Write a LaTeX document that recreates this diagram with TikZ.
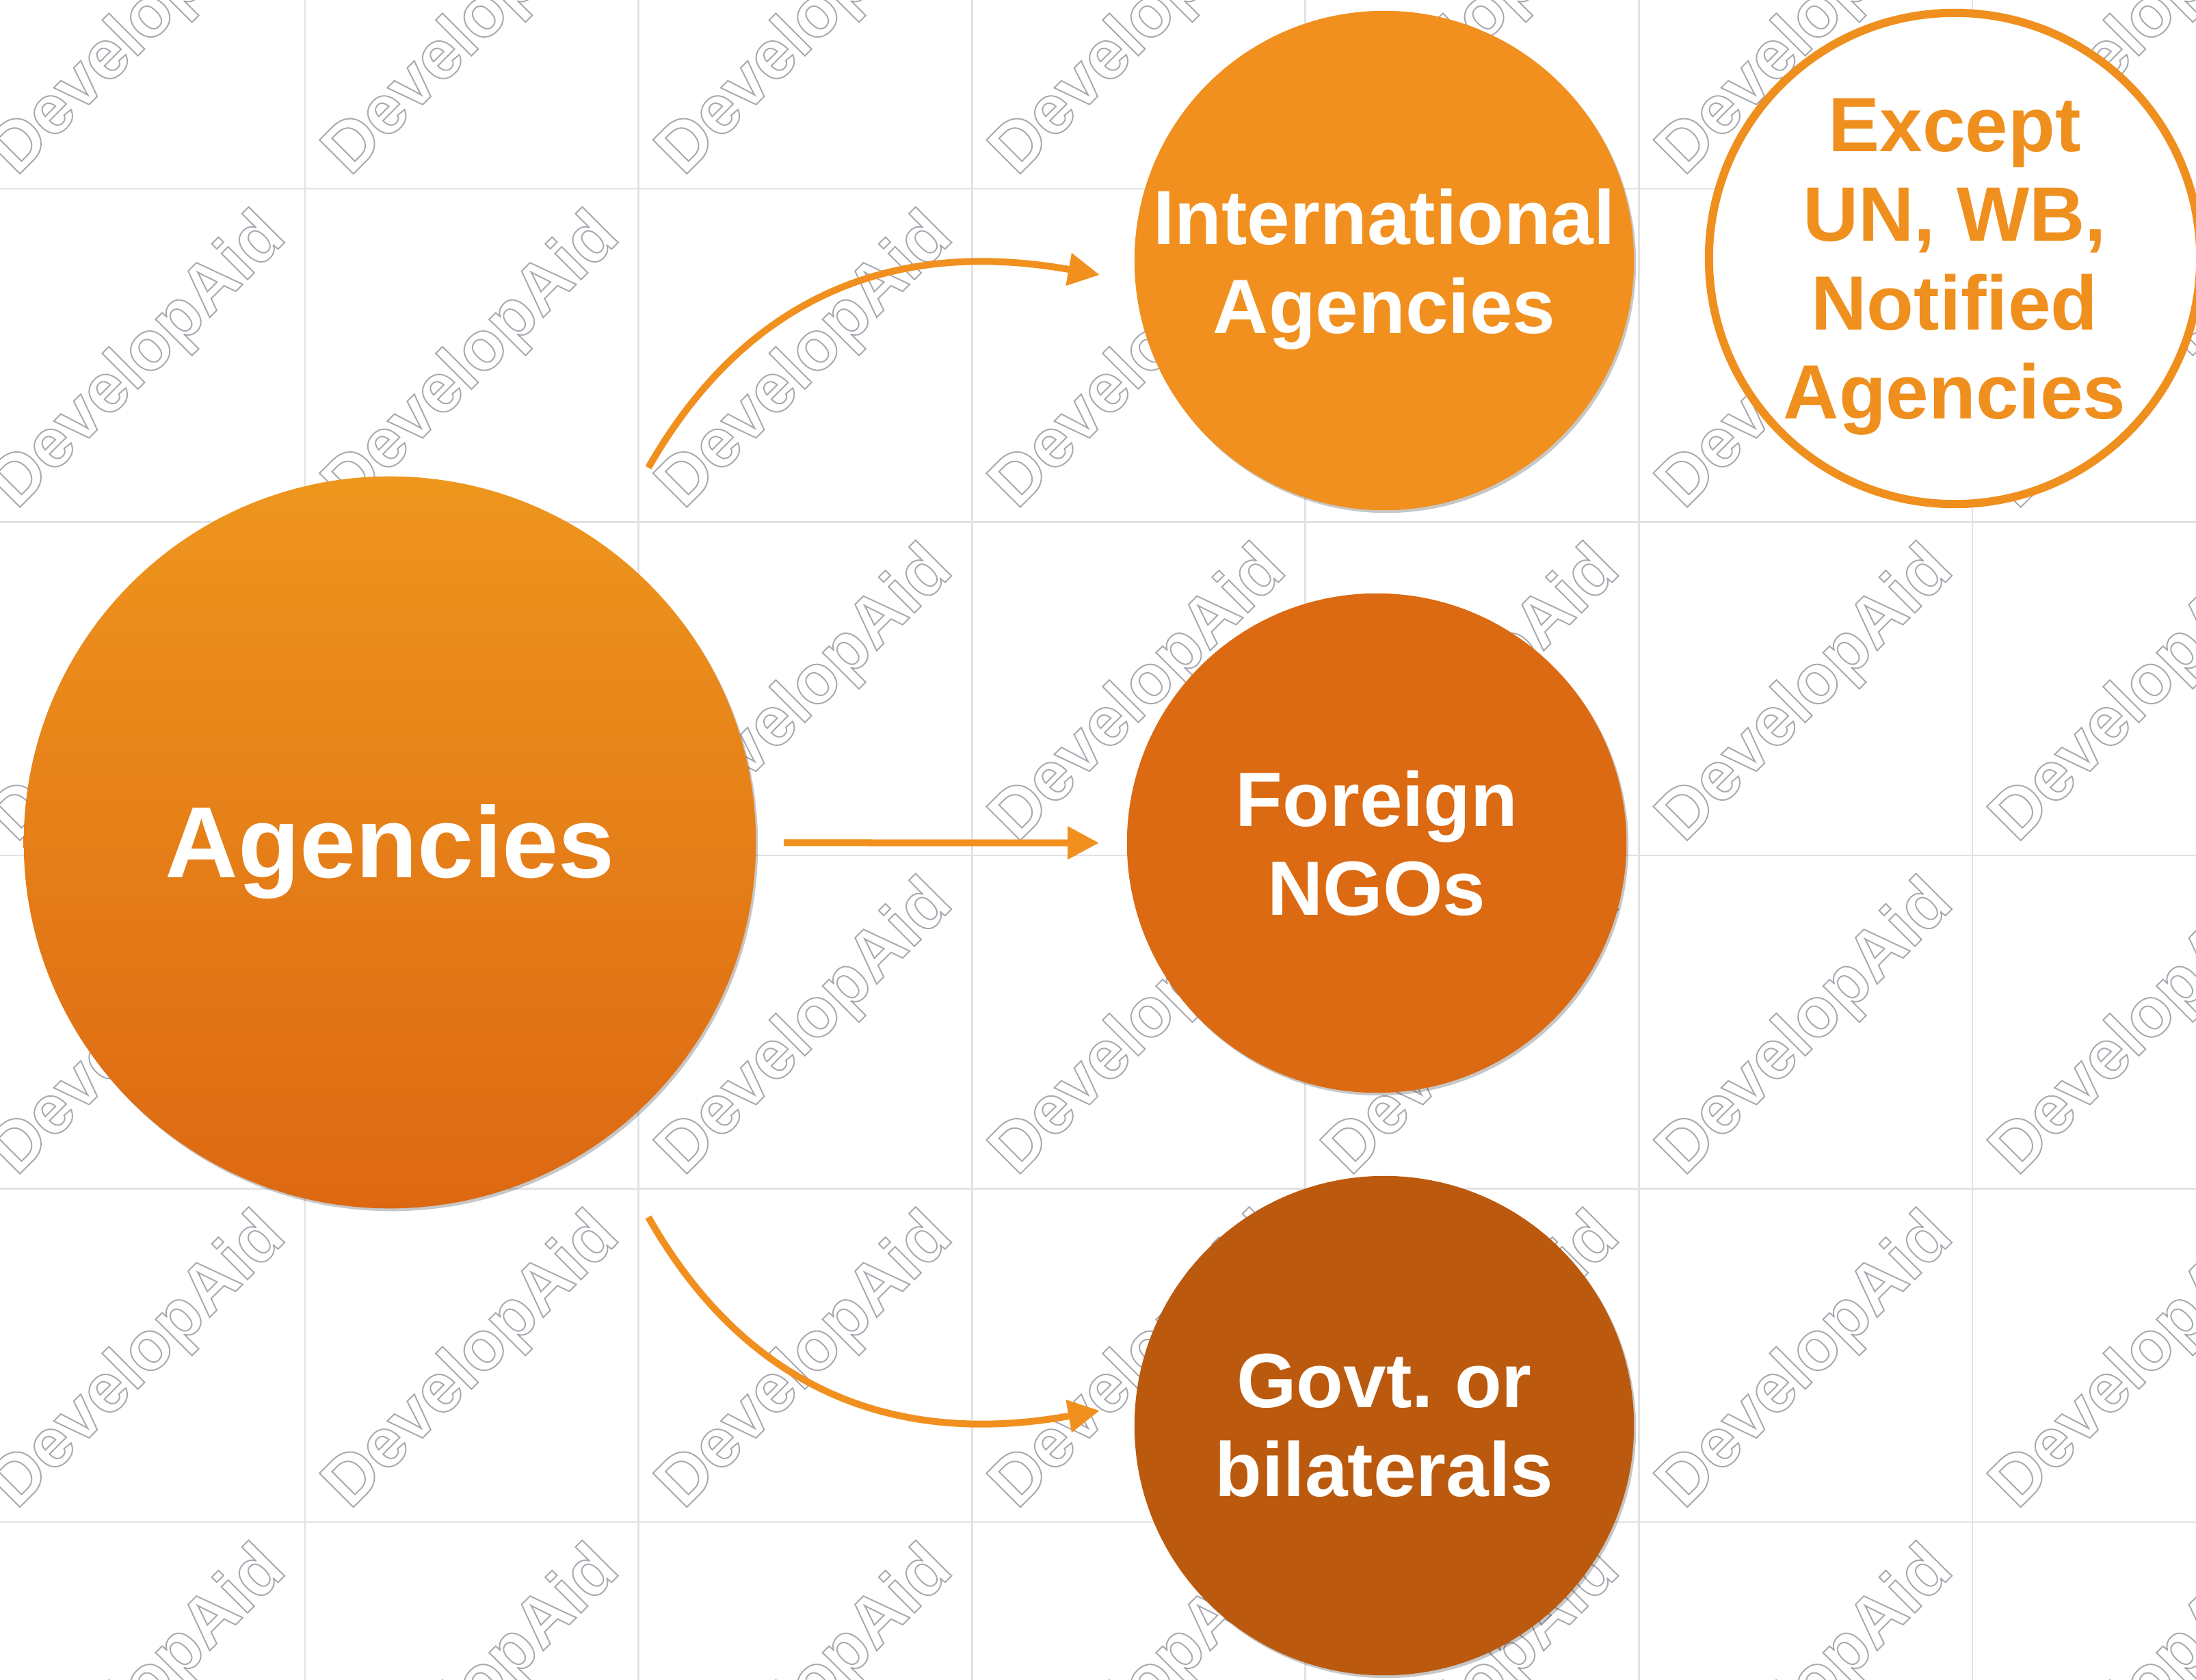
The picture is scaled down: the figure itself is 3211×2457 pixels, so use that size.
\documentclass[tikz,border=0pt]{standalone}
\usepackage{fontspec}
\setmainfont{Liberation Sans}
\usetikzlibrary{arrows.meta,shadows}
\definecolor{orA}{HTML}{F1901E}
\definecolor{agTop}{HTML}{EE961E}
\definecolor{agBot}{HTML}{DD6812}
\definecolor{ngoC}{HTML}{DB6A12}
\definecolor{govC}{HTML}{BB5A0E}
\definecolor{exC}{HTML}{EF8F1E}
\definecolor{wmgray}{RGB}{168,168,176}
\definecolor{gridgray}{RGB}{226,226,228}
\newcommand\wmtext{\special{pdf:literal direct 1 Tr 0.55 w}DevelopAid\special{pdf:literal direct 0 Tr}}
\tikzset{
  gridline/.style={draw=gridgray, line width=0.8pt},
  wm/.style={rotate=45, text=wmgray, font=\fontsize{29}{29}\selectfont\bfseries, inner sep=0pt},
  disc/.style={circle, inner sep=0pt, minimum size=7.3cm,
    drop shadow={shadow xshift=0.03cm, shadow yshift=-0.04cm, opacity=0.22, fill=black}},
  lbl/.style={align=center, text=white, font=\fontsize{32}{37}\selectfont\bfseries, inner sep=0pt},
  arr/.style={draw=orA, line width=0.1cm, -{Triangle[length=0.46cm,width=0.46cm]}},
}
\begin{document}
\frenchspacing
\begin{tikzpicture}[x=0.01cm,y=-0.01cm]
\useasboundingbox (0,0) rectangle (3211,2457);
\fill[white] (0,0) rectangle (3211,2457);
% grid
\foreach \k in {0,...,5} \draw[gridline] ({446+487.6*\k},0) -- ({446+487.6*\k},2457);
\foreach \k in {0,...,4} \draw[gridline] (0,{276+487.5*\k}) -- (3211,{276+487.5*\k});
% watermarks
\foreach \i in {0,...,6}{
  \foreach \j in {0,...,5}{
    \node[wm] (wm-\i-\j) at ({204+487.6*\i},{42+487.5*\j}) {\wmtext};
  }
}
% circles
\node[disc, minimum size=10.7cm, top color=agTop, bottom color=agBot] (agen) at (570,1232) {};
\node[disc, fill=orA] (intl) at (2024,381) {};
\node[disc, fill=ngoC] (ngo) at (2013,1233) {};
\node[disc, fill=govC] (gov) at (2024,2085) {};
\node[disc, fill=white, draw=exC, line width=0.12cm, minimum size=7.18cm] (exc) at (2858,378) {};
% labels
\node[lbl, font=\fontsize{42}{48}\selectfont\bfseries, yshift=-4pt] (agenT) at (agen) {Agencies};
\node[lbl, yshift=-3.5pt] (intlT) at (intl) {International\\Agencies};
\node[lbl] (ngoT) at (ngo) {Foreign\\NGOs};
\node[lbl] (govT) at (gov) {Govt. or\\bilaterals};
\node[lbl, text=exC, yshift=-3.5pt] (excT) at (exc) {Except\\UN, WB,\\Notified\\Agencies};
% connectors
\coordinate (s1) at (948,684);
\coordinate (e1) at (1608,402);
\coordinate (s3) at (948,1780);
\coordinate (e3) at (1608,2063);
\draw[arr] (s1) .. controls (1130,365) and (1400,365) .. (e1);
\draw[arr, shorten <=0.4cm, shorten >=0.4cm] (agen) -- (ngo);
\draw[arr] (s3) .. controls (1130,2100) and (1400,2100) .. (e3);
\end{tikzpicture}
\end{document}
